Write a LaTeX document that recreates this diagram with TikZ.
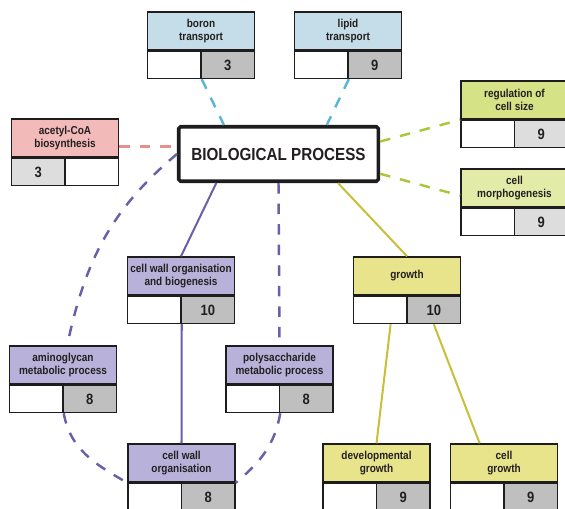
\documentclass[tikz,border=0pt]{standalone}
\usepackage{fontspec}
\setmainfont{Liberation Sans}[FakeStretch=0.87]

\definecolor{borda}{RGB}{30,28,28}
\definecolor{textoesc}{RGB}{35,31,32}
\definecolor{cinzaesc}{RGB}{191,191,191}
\definecolor{cinzaclaro}{RGB}{221,221,221}
\definecolor{azulfundo}{RGB}{197,221,232}
\definecolor{azullinha}{RGB}{90,182,216}
\definecolor{rosafundo}{RGB}{243,186,186}
\definecolor{rosalinha}{RGB}{232,142,140}
\definecolor{verdefundo}{RGB}{213,226,134}
\definecolor{verdeclaro}{RGB}{226,236,168}
\definecolor{verdelinha}{RGB}{168,200,58}
\definecolor{roxofundo}{RGB}{184,178,218}
\definecolor{roxolinha}{RGB}{105,96,170}
\definecolor{amarelofundo}{RGB}{232,228,140}
\definecolor{olivalinha}{RGB}{200,192,58}

\begin{document}
\begin{tikzpicture}[
    termo/.style={draw=borda, line width=0.85pt, minimum width=2.14cm, minimum height=0.76cm,
      inner sep=0pt, align=center, text=textoesc, font=\fontsize{6.55}{7.6}\selectfont\bfseries},
    celvazia/.style={draw=borda, line width=0.85pt, fill=white, minimum width=1.07cm,
      minimum height=0.54cm, inner sep=0pt},
    celnum/.style={celvazia, fill=cinzaesc, text=textoesc, font=\fontsize{8.5}{9}\selectfont\bfseries},
    tracejado/.style={line width=1.4pt, dash pattern=on 6pt off 5.7pt},
    continuo/.style={line width=1.15pt}
  ]
  \useasboundingbox (0,0) rectangle (11.3,-10.16);

  % Processo central
  \node[draw=borda, line width=2pt, rounded corners=1pt, fill=white, minimum width=3.99cm,
    minimum height=1.09cm, text=textoesc, font=\fontsize{9.95}{12}\selectfont\bfseries]
    (bp) at (5.57,-3.08) {BIOLOGICAL PROCESS};

  % Transporte
  \node[termo, fill=azulfundo] (boro) at (4.02,-0.62) {boron\\transport};
  \node[celvazia, anchor=north west] (boroV) at (boro.south west) {};
  \node[celnum, anchor=north east] (boroN) at (boro.south east) {3};
  \node[termo, fill=azulfundo] (lipid) at (6.96,-0.62) {lipid\\transport};
  \node[celvazia, anchor=north west] (lipidV) at (lipid.south west) {};
  \node[celnum, anchor=north east] (lipidN) at (lipid.south east) {9};

  % Acetil-CoA
  \node[termo, fill=rosafundo] (acetil) at (1.30,-2.76) {acetyl-CoA\\biosynthesis};
  \node[celnum, fill=cinzaclaro, anchor=north west] (acetilN) at (acetil.south west) {3};
  \node[celvazia, anchor=north east] (acetilV) at (acetil.south east) {};

  % Celula (verde)
  \node[termo, fill=verdefundo] (regul) at (10.29,-2.00) {regulation of\\cell size};
  \node[celvazia, anchor=north west] (regulV) at (regul.south west) {};
  \node[celnum, fill=cinzaclaro, anchor=north east] (regulN) at (regul.south east) {9};
  \node[termo, fill=verdeclaro] (morfo) at (10.29,-3.76) {cell\\morphogenesis};
  \node[celvazia, anchor=north west] (morfoV) at (morfo.south west) {};
  \node[celnum, fill=cinzaclaro, anchor=north east] (morfoN) at (morfo.south east) {9};

  % Parede celular (roxo)
  \node[termo, fill=roxofundo] (cwob) at (3.62,-5.52) {cell wall organisation\\and biogenesis};
  \node[celvazia, anchor=north west] (cwobV) at (cwob.south west) {};
  \node[celnum, anchor=north east] (cwobN) at (cwob.south east) {10};
  \node[termo, fill=roxofundo] (amino) at (1.26,-7.30) {aminoglycan\\metabolic process};
  \node[celvazia, anchor=north west] (aminoV) at (amino.south west) {};
  \node[celnum, anchor=north east] (aminoN) at (amino.south east) {8};
  \node[termo, fill=roxofundo] (poli) at (5.59,-7.30) {polysaccharide\\metabolic process};
  \node[celvazia, anchor=north west] (poliV) at (poli.south west) {};
  \node[celnum, anchor=north east] (poliN) at (poli.south east) {8};
  \node[termo, fill=roxofundo] (cwo) at (3.63,-9.26) {cell wall\\organisation};
  \node[celvazia, anchor=north west] (cwoV) at (cwo.south west) {};
  \node[celnum, anchor=north east] (cwoN) at (cwo.south east) {8};

  % Crescimento (amarelo)
  \node[termo, fill=amarelofundo] (cresc) at (8.14,-5.52) {growth};
  \node[celvazia, anchor=north west] (crescV) at (cresc.south west) {};
  \node[celnum, anchor=north east] (crescN) at (cresc.south east) {10};
  \node[termo, fill=amarelofundo] (devcresc) at (7.53,-9.26) {developmental\\growth};
  \node[celvazia, anchor=north west] (devcrescV) at (devcresc.south west) {};
  \node[celnum, anchor=north east] (devcrescN) at (devcresc.south east) {9};
  \node[termo, fill=amarelofundo] (celcresc) at (10.08,-9.26) {cell\\growth};
  \node[celvazia, anchor=north west] (celcrescV) at (celcresc.south west) {};
  \node[celnum, anchor=north east] (celcrescN) at (celcresc.south east) {9};

  % Ligacoes
  \draw[tracejado, azullinha] (boroV.south east) -- (bp.152);
  \draw[tracejado, azullinha] (lipidV.south east) -- (bp.31);
  \draw[tracejado, rosalinha] (acetil.-9) -- (acetil.-9 -| bp.west);
  \draw[tracejado, verdelinha] (bp.7) -- (regul.south west);
  \draw[tracejado, verdelinha] (bp.-11) -- (morfo.188);
  \draw[continuo, roxolinha] (bp.205) -- (cwob.north);
  \draw[continuo, roxolinha] (cwobV.south east) -- (cwo.north);
  \draw[tracejado, roxolinha] (bp.south) -- (poli.north);
  \draw[tracejado, roxolinha] (bp.west) to[out=220, in=78] (amino.78);
  \draw[tracejado, roxolinha] (aminoV.south east) to[out=-80, in=150] (cwo.south west);
  \draw[tracejado, roxolinha] (poliV.south east) to[out=-100, in=40] (cwo.south east);
  \draw[continuo, olivalinha] (bp.-26) -- (cresc.north);
  \draw[continuo, olivalinha] (crescV.-54) -- (devcresc.north);
  \draw[continuo, olivalinha] (crescN.south) -- (celcresc.141);
\end{tikzpicture}
\end{document}
